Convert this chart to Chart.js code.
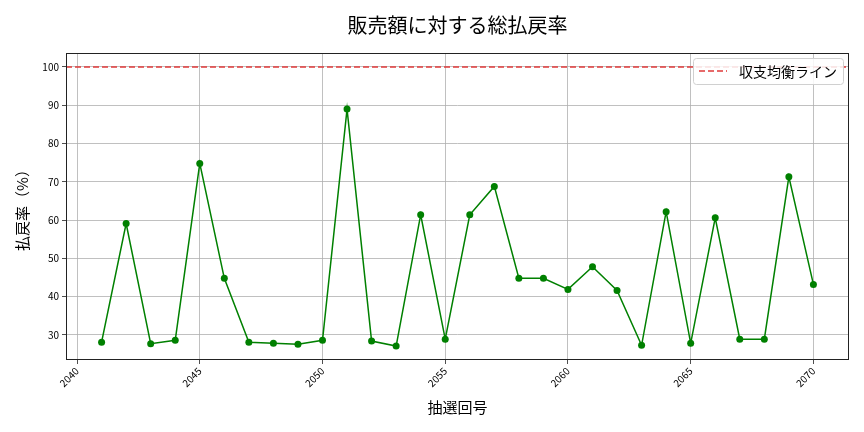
<!DOCTYPE html>
<html>
<head>
<meta charset="utf-8">
<script src="https://cdn.jsdelivr.net/npm/chart.js@4.4.1/dist/chart.umd.min.js"></script>
<style>
  body { margin: 0; background: #fff; }
  canvas { display: block; }
</style>
</head>
<body>
<canvas id="chart" width="864" height="432"></canvas>
<script>
// 抽選回号と総払戻率
const drawNumbers = [2041, 2042, 2043, 2044, 2045, 2046, 2047, 2048, 2049, 2050,
    2051, 2052, 2053, 2054, 2055, 2056, 2057, 2058, 2059, 2060,
    2061, 2062, 2063, 2064, 2065, 2066, 2067, 2068, 2069, 2070];
const payoutRates = [28.1, 59.1, 27.7, 28.6, 74.8, 44.8, 28.1, 27.8, 27.6, 28.6,
    89.0, 28.4, 27.1, 61.4, 28.9, 61.4, 68.8, 44.8, 44.8, 41.9,
    47.8, 41.6, 27.3, 62.2, 27.8, 60.6, 28.9, 28.9, 71.3, 43.2];
const breakEven = 100;
const xTicks = [2040, 2045, 2050, 2055, 2060, 2065, 2070];
const yTicks = [30, 40, 50, 60, 70, 80, 90, 100];

const FONT = "'Noto Sans CJK JP', 'Noto Sans', sans-serif";

// matplotlib風の余白 (5%)
const xSpan = drawNumbers[drawNumbers.length - 1] - drawNumbers[0];
const xMin = drawNumbers[0] - xSpan * 0.05;
const xMax = drawNumbers[drawNumbers.length - 1] + xSpan * 0.05;
const yLow = Math.min(...payoutRates);
const yHigh = Math.max(breakEven, ...payoutRates);
const ySpan = yHigh - yLow;

// 枠線・タイトル・凡例
const framePlugin = {
    id: 'frame',
    afterDraw(chart) {
        const { ctx, chartArea } = chart;
        ctx.save();
        ctx.strokeStyle = '#222';
        ctx.lineWidth = 1;
        ctx.strokeRect(chartArea.left + 0.5, chartArea.top + 0.5,
            chartArea.right - chartArea.left - 1, chartArea.bottom - chartArea.top - 1);

        // タイトル (プロット領域の中央)
        ctx.fillStyle = '#000';
        ctx.font = `20px ${FONT}`;
        ctx.textAlign = 'center';
        ctx.textBaseline = 'middle';
        ctx.fillText('販売額に対する総払戻率', (chartArea.left + chartArea.right) / 2, 25);

        // 凡例
        const ds = chart.data.datasets[1];
        const w = 150, h = 26;
        const x = chartArea.right - 6 - w;
        const y = chartArea.top + 5;
        ctx.fillStyle = 'rgba(255,255,255,0.85)';
        ctx.strokeStyle = '#d0d0d0';
        ctx.beginPath();
        ctx.roundRect(x + 0.5, y + 0.5, w, h, 3);
        ctx.fill();
        ctx.stroke();
        ctx.strokeStyle = ds.borderColor;
        ctx.lineWidth = ds.borderWidth;
        ctx.setLineDash(ds.borderDash);
        ctx.beginPath();
        ctx.moveTo(x + 6, y + h / 2);
        ctx.lineTo(x + 34, y + h / 2);
        ctx.stroke();
        ctx.setLineDash([]);
        ctx.fillStyle = '#000';
        ctx.font = `14px ${FONT}`;
        ctx.textAlign = 'left';
        ctx.fillText(ds.label, x + 46, y + h / 2 + 1);
        ctx.restore();
    }
};

new Chart(document.getElementById('chart'), {
    type: 'line',
    data: {
        datasets: [
            {
                label: '総払戻率',
                data: drawNumbers.map((n, i) => ({ x: n, y: payoutRates[i] })),
                borderColor: 'green',
                backgroundColor: 'green',
                borderWidth: 1.5,
                pointRadius: 3.5,
                pointBorderWidth: 0,
                pointHoverRadius: 3.5,
                tension: 0
            },
            {
                label: '収支均衡ライン',
                data: [{ x: xMin, y: breakEven }, { x: xMax, y: breakEven }],
                borderColor: '#e03a3a',
                borderWidth: 1.5,
                borderDash: [6, 3],
                pointRadius: 0,
                tension: 0
            }
        ]
    },
    options: {
        responsive: false,
        animation: false,
        layout: { padding: { left: 0, right: 15, top: 53, bottom: 0 } },
        plugins: {
            legend: { display: false },
            tooltip: { enabled: false }
        },
        scales: {
            x: {
                type: 'linear',
                min: xMin,
                max: xMax,
                afterBuildTicks: (axis) => { axis.ticks = xTicks.map(v => ({ value: v })); },
                afterFit: (scale) => { scale.height = 72; },
                ticks: {
                    color: '#000',
                    font: { family: FONT, size: 10 },
                    minRotation: 45,
                    maxRotation: 45,
                    padding: 1,
                    callback: (v) => String(v)
                },
                grid: { color: '#b0b0b0', lineWidth: 0.8, tickLength: 4, tickColor: '#222' },
                border: { display: false },
                title: {
                    display: true,
                    text: '抽選回号',
                    color: '#000',
                    font: { family: FONT, size: 15 },
                    padding: { top: 0, bottom: 16 }
                }
            },
            y: {
                type: 'linear',
                min: yLow - ySpan * 0.05,
                max: yHigh + ySpan * 0.05,
                afterBuildTicks: (axis) => { axis.ticks = yTicks.map(v => ({ value: v })); },
                afterFit: (scale) => { scale.width = 66; },
                ticks: {
                    color: '#000',
                    font: { family: FONT, size: 10 },
                    padding: 3
                },
                grid: { color: '#b0b0b0', lineWidth: 0.8, tickLength: 4, tickColor: '#222' },
                border: { display: false },
                title: {
                    display: true,
                    text: '払戻率（%）',
                    color: '#000',
                    font: { family: FONT, size: 15 },
                    padding: { top: 13, bottom: 0 }
                }
            }
        }
    },
    plugins: [framePlugin]
});
</script>
</body>
</html>
